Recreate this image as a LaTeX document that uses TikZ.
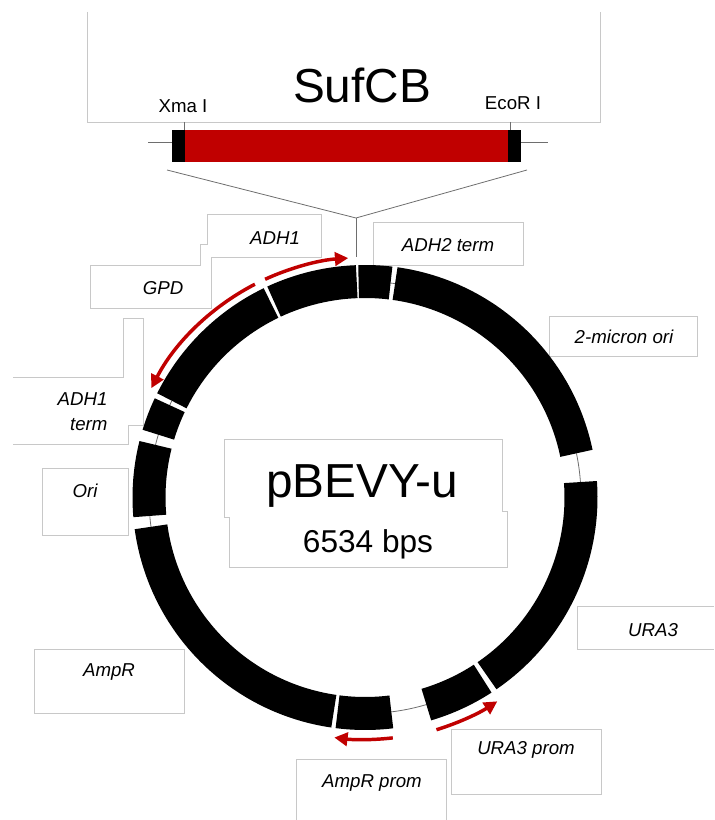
\documentclass[tikz,border=0pt]{standalone}
\usepackage{fontspec}
\setmainfont{Liberation Sans}
\usetikzlibrary{arrows.meta}
\definecolor{cred}{RGB}{192,0,0}
\definecolor{cbox}{RGB}{200,200,200}
\definecolor{cline}{RGB}{110,110,110}

\begin{document}
\begin{tikzpicture}[
  x=0.75pt,y=0.75pt,
  labelbox/.style={draw=cbox,line width=0.6pt,fill=white},
  openbox/.style={draw=cbox,line width=0.6pt},
  genelabel/.style={font=\fontsize{14}{19}\selectfont\itshape,align=right,inner sep=0pt},
  sitelabel/.style={font=\fontsize{14}{16}\selectfont,inner sep=0pt},
  barpart/.style={inner sep=0pt,minimum height=24pt},
  fineline/.style={draw=cline,line width=0.6pt},
  ringpart/.style={line width=24.75pt,black},
  promarrow/.style={draw=cred,line width=2.6pt,-{Triangle[length=10pt,width=10pt]}}
]
  \useasboundingbox (0,0) rectangle (714,820);

  \draw[openbox] (87,808) -- (87,698) -- (600,698) -- (600,808);
  \node[font=\fontsize{35.8}{40}\selectfont,inner sep=0pt] (insertname) at (362,735) {SufCB};
  \node[sitelabel] (xmalabel) at (183,714) {Xma I};
  \node[sitelabel] (ecorlabel) at (513,717) {EcoR I};

  \node[barpart,fill=black,minimum width=261.75pt] (insertbar) at (346.5,674) {};
  \node[barpart,fill=cred,minimum width=242.25pt] (sufcb) at (346.5,674) {};
  \coordinate (barleft) at (148,678);
  \coordinate (barright) at (548,678);
  \coordinate (barleftend) at (172,678);
  \coordinate (barrightend) at (521,678);
  \coordinate (xmatop) at (184,698);
  \coordinate (xmafoot) at (184,690);
  \coordinate (ecortop) at (510,698);
  \coordinate (ecorfoot) at (510,690);
  \draw[fineline] (barleft) -- (barleftend);
  \draw[fineline] (barrightend) -- (barright);
  \draw[fineline] (xmatop) -- (xmafoot);
  \draw[fineline] (ecortop) -- (ecorfoot);

  \coordinate (funnelleft) at (167,650);
  \coordinate (funnelright) at (527,650);
  \coordinate (apex) at (356,602);
  \coordinate (apexfoot) at (356,563);
  \draw[fineline] (funnelleft) -- (apex) -- (funnelright);
  \draw[fineline] (apex) -- (apexfoot);

  \draw[labelbox] (90,555) -- (200,555) -- (200,576) -- (207,576) -- (207,606) -- (321,606)
    -- (321,563) -- (211,563) -- (211,512) -- (90,512) -- cycle;
  \draw[openbox] (13,443) -- (123,443) -- (123,502) -- (143,502) -- (143,395) -- (128,395)
    -- (128,376) -- (13,376);
  \draw[labelbox] (42,352) rectangle (128,285);
  \draw[labelbox] (34,171) rectangle (184,107);
  \draw[openbox] (296,0) -- (296,61) -- (446,61) -- (446,0);
  \draw[labelbox] (451,91) rectangle (601,26);
  \draw[openbox] (714,214) -- (577,214) -- (577,171) -- (714,171);
  \draw[labelbox] (549,504) rectangle (697,464);
  \draw[labelbox] (373,598) rectangle (523,555);
  \draw[labelbox] (224,381) -- (502,381) -- (502,309) -- (507,309) -- (507,253) -- (229,253)
    -- (229,303) -- (224,303) -- cycle;

  \node[genelabel] (adhone) at (275,582) {ADH1};
  \node[genelabel] (gpd) at (163,532) {GPD};
  \node[genelabel] (adhterm) at (82.5,408) {ADH1\\term};
  \node[genelabel] (ori) at (85,329) {Ori};
  \node[genelabel] (ampr) at (109,148) {AmpR};
  \node[genelabel] (amprprom) at (372,37) {AmpR prom};
  \node[genelabel] (uraprom) at (526,70) {URA3 prom};
  \node[genelabel] (ura) at (653,190) {URA3};
  \node[genelabel] (micron) at (624,483) {2-micron ori};
  \node[genelabel] (adhtwo) at (448,575) {ADH2 term};
  \node[font=\fontsize{35.8}{40}\selectfont,inner sep=0pt] (plasmid) at (362,334) {pBEVY-u};
  \node[font=\fontsize{23.7}{28}\selectfont,inner sep=0pt] (bps) at (368,276) {6534 bps};

  \begin{scope}[shift={(365,322.5)}]
    \foreach \from/\to in {83.2/82,11.8/4.1,-73.5/-83,188/185,166/163,155/153.5}
      \draw[fineline] (\from:216) arc (\from:\to:216);
    \foreach \from/\to in {92.2/114.9,115.8/153.4,154.7/163.1,165.9/184.9,187.8/261.7,262.7/277,286.5/303,304.4/364.1,371.8/442,83.2/91.7}
      \draw[ringpart] (\from:216) arc (\from:\to:216);
    \draw[promarrow] (114.6:240) arc (114.6:94:240);
    \draw[promarrow] (117.3:240) arc (117.3:152.9:240);
    \draw[promarrow] (-72.9:243) arc (-72.9:-57:243);
    \draw[promarrow] (-83.4:242) arc (-83.4:-97.3:242);
  \end{scope}
\end{tikzpicture}
\end{document}
